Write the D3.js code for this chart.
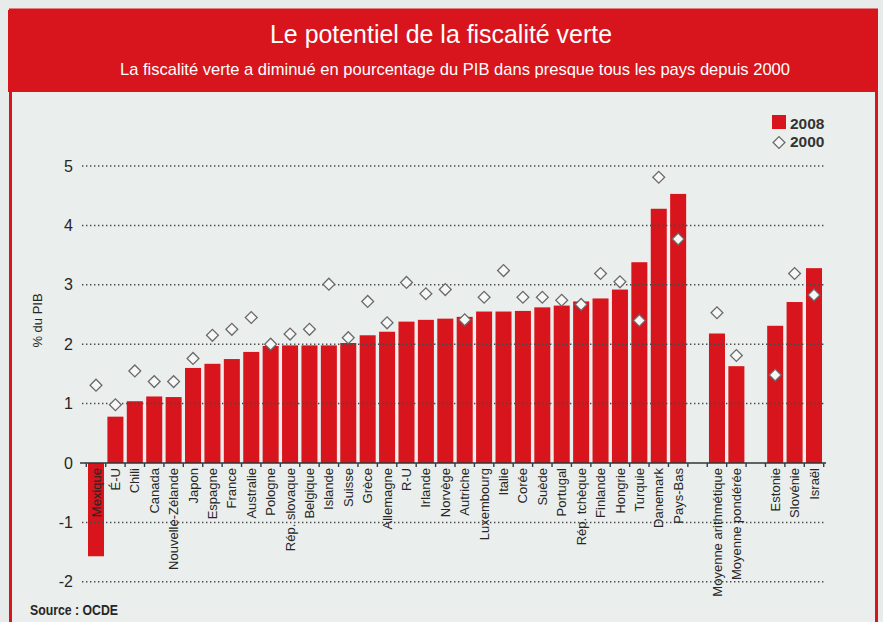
<!DOCTYPE html>
<html lang="fr">
<head>
<meta charset="utf-8">
<script src="https://cdn.jsdelivr.net/npm/d3@7"></script>
<style>
  html, body { margin: 0; padding: 0; background: #e7ebe9; }
  svg { display: block; }
  text { font-family: "Liberation Sans", Arial, sans-serif; }
</style>
</head>
<body>
<svg id="chart" width="883" height="622"></svg>
<script>
// Green taxes as % of GDP, 2008 (bars) and 2000 (diamonds)
const categories = [
  "Mexique", "É-U", "Chili", "Canada", "Nouvelle-Zélande", "Japon", "Espagne",
  "France", "Australie", "Pologne", "Rép. slovaque", "Belgique", "Islande",
  "Suisse", "Grèce", "Allemagne", "R-U", "Irlande", "Norvège", "Autriche",
  "Luxembourg", "Italie", "Corée", "Suède", "Portugal", "Rép. tchèque",
  "Finlande", "Hongrie", "Turquie", "Danemark", "Pays-Bas",
  "Moyenne arithmétique", "Moyenne pondérée",
  "Estonie", "Slovénie", "Israël"
];
const values2008 = [
  -1.57, 0.78, 1.04, 1.12, 1.11, 1.60, 1.67,
  1.75, 1.87, 1.97, 1.98, 1.98, 1.98,
  2.02, 2.15, 2.21, 2.38, 2.41, 2.43, 2.46,
  2.55, 2.55, 2.56, 2.62, 2.65, 2.72,
  2.77, 2.92, 3.38, 4.28, 4.53,
  2.18, 1.63,
  2.31, 2.71, 3.28
];
const values2000 = [
  1.31, 0.98, 1.55, 1.37, 1.37, 1.76, 2.15,
  2.25, 2.45, 2.00, 2.17, 2.25, 3.01,
  2.11, 2.72, 2.36, 3.04, 2.85, 2.92, 2.41,
  2.79, 3.24, 2.79, 2.79, 2.74, 2.67,
  3.19, 3.05, 2.40, 4.81, 3.77,
  2.53, 1.81,
  1.48, 3.19, 2.83
];
// an empty slot is left before each of these groups
const gapBefore = ["Moyenne arithmétique", "Estonie"];
const yTicks = [-2, -1, 0, 1, 2, 3, 4, 5];
const seriesNames = ["2008", "2000"];

const titleText = "Le potentiel de la fiscalité verte";
const subtitleText = "La fiscalité verte a diminué en pourcentage du PIB dans presque tous les pays depuis 2000";
const yTitle = "% du PIB";
const sourceText = "Source : OCDE";

const RED = "#d8141c";
const INK = "#262626";

const svg = d3.select("#chart");

// ---- frame and header band
svg.append("rect").attr("x", 10.5).attr("y", 10).attr("width", 866).attr("height", 640)
  .attr("fill", "#eaeeec").attr("stroke", RED).attr("stroke-width", 3);
svg.append("rect").attr("x", 8).attr("y", 10).attr("width", 870).attr("height", 82)
  .attr("fill", RED);
svg.append("text").attr("x", 441).attr("y", 43).attr("text-anchor", "middle")
  .attr("fill", "#fff").attr("font-size", 25)
  .attr("textLength", 342).attr("lengthAdjust", "spacingAndGlyphs")
  .text(titleText);
svg.append("text").attr("x", 455).attr("y", 75).attr("text-anchor", "middle")
  .attr("fill", "#fff").attr("font-size", 17)
  .attr("textLength", 670).attr("lengthAdjust", "spacingAndGlyphs")
  .text(subtitleText);

// ---- scales
const slots = [];
categories.forEach((c, i) => {
  if (gapBefore.includes(c)) slots.push("__gap" + i);
  slots.push(c);
});
const x = d3.scaleBand().domain(slots).range([86.3, 823.7])
  .paddingInner(0.175).paddingOuter(0.0875);
const y = d3.scaleLinear().domain([-2, 5]).range([581.8, 166]);
const y0 = y(0);

const data = categories.map((c, i) => ({ name: c, v08: values2008[i], v00: values2000[i] }));

// ---- bars (2008)
svg.append("g").selectAll("rect").data(data).join("rect")
  .attr("x", d => x(d.name))
  .attr("width", x.bandwidth())
  .attr("y", d => y(Math.max(0, d.v08)))
  .attr("height", d => Math.abs(y(d.v08) - y0))
  .attr("fill", RED);

// ---- dotted grid (drawn over the bars)
svg.append("g").selectAll("line").data(yTicks.filter(t => t !== 0)).join("line")
  .attr("x1", 82).attr("x2", 826)
  .attr("y1", d => y(d)).attr("y2", d => y(d))
  .attr("stroke", "#4a4a4a").attr("stroke-width", 1.5)
  .attr("stroke-dasharray", "1.4,2.6");

// ---- y axis labels
const yAxis = svg.append("g").attr("transform", "translate(73,0)")
  .call(d3.axisLeft(y).tickValues(yTicks).tickSize(0).tickPadding(0).tickFormat(d => String(d)));
yAxis.select(".domain").remove();
yAxis.selectAll("text").attr("font-size", 16).attr("fill", INK)
  .attr("font-family", "Liberation Sans, Arial, sans-serif");

svg.append("text")
  .attr("transform", `translate(41.5,${(y(2) + y(3)) / 2 + 6}) rotate(-90)`)
  .attr("text-anchor", "middle").attr("font-size", 13).attr("fill", INK)
  .text(yTitle);

// ---- x axis at zero with category labels
const xAxis = svg.append("g").attr("transform", `translate(0,${y0})`)
  .call(d3.axisBottom(x).tickValues(categories).tickSize(0).tickSizeOuter(0));
xAxis.select(".domain").remove();
xAxis.selectAll(".tick text")
  .attr("font-size", 13).attr("fill", INK)
  .attr("font-family", "Liberation Sans, Arial, sans-serif")
  .attr("text-anchor", "end")
  .attr("transform", "rotate(-90)")
  .attr("x", -5).attr("y", 0).attr("dy", "0.35em");

svg.append("line").attr("x1", 80).attr("x2", 826).attr("y1", y0).attr("y2", y0)
  .attr("stroke", "#2f3436").attr("stroke-width", 1.6);
// small ticks at slot boundaries
const boundaries = d3.range(slots.length + 1).map(i => x.range()[0] + i * x.step());
svg.append("g").selectAll("line").data(boundaries).join("line")
  .attr("x1", d => d).attr("x2", d => d)
  .attr("y1", y0).attr("y2", y0 + 4)
  .attr("stroke", "#2f3f48").attr("stroke-width", 1.4);

// ---- diamonds (2000)
const diamond = d3.symbol().type(d3.symbolSquare).size(70);
svg.append("g").selectAll("path").data(data).join("path")
  .attr("d", diamond)
  .attr("transform", d => `translate(${x(d.name) + x.bandwidth() / 2},${y(d.v00)}) rotate(45)`)
  .attr("fill", "#f6f7f6").attr("stroke", "#6a6a6a").attr("stroke-width", 1.3);

// ---- legend
const lg = svg.append("g");
lg.append("rect").attr("x", 772).attr("y", 115).attr("width", 14).attr("height", 14).attr("fill", RED);
lg.append("path").attr("d", diamond)
  .attr("transform", "translate(779,142.5) rotate(45)")
  .attr("fill", "#f6f7f6").attr("stroke", "#6a6a6a").attr("stroke-width", 1.3);
lg.selectAll("text").data(seriesNames).join("text")
  .attr("x", 790).attr("y", (d, i) => 128.5 + i * 18)
  .attr("font-size", 15.5).attr("font-weight", 600).attr("fill", "#333")
  .text(d => d);

// ---- source
svg.append("text").attr("x", 30).attr("y", 615)
  .attr("font-size", 15.5).attr("font-weight", 700).attr("fill", INK)
  .attr("textLength", 88).attr("lengthAdjust", "spacingAndGlyphs")
  .text(sourceText);
</script>
</body>
</html>
